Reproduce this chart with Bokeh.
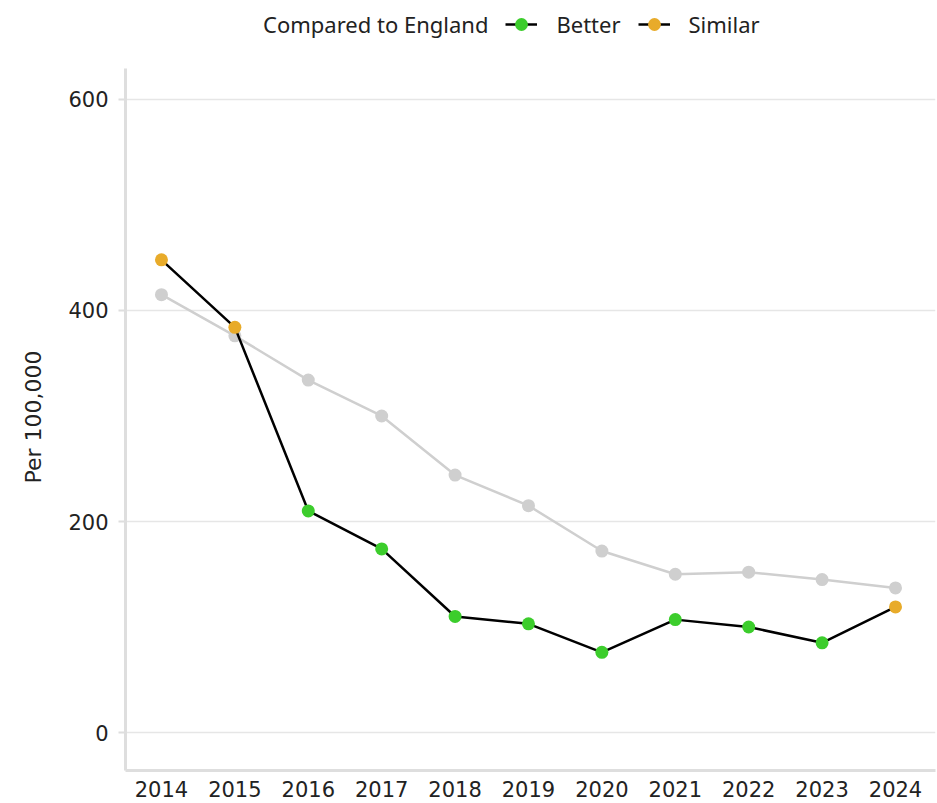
from bokeh.plotting import figure
from bokeh.models import ColumnDataSource, Legend, LegendItem, FixedTicker, Range1d, Title
from bokeh.embed import file_html
from bokeh.resources import INLINE

years = [2014, 2015, 2016, 2017, 2018, 2019, 2020, 2021, 2022, 2023, 2024]
area_values = [448, 384, 210, 174, 110, 103, 76, 107, 100, 85, 119]
area_compare = ["Similar", "Similar", "Better", "Better", "Better", "Better",
                "Better", "Better", "Better", "Better", "Similar"]
england_values = [415, 376, 334, 300, 244, 215, 172, 150, 152, 145, 137]
y_ticks = [0, 200, 400, 600]
legend_title = "Compared to England"
y_label = "Per 100,000"

colors = {"Better": "#3ccd2c", "Similar": "#e8ab2a"}
grey = "#cfcfcf"
axis_grey = "#dedede"
font = "DejaVu Sans"
lfont = "Noto Sans"

Y_LO, Y_AXIS_TOP, Y_HI = -36, 629.4, 693.8

p = figure(width=936, height=802, output_backend="svg", toolbar_location=None,
           x_range=Range1d(2013.51, 2024.545), y_range=Range1d(Y_LO, Y_HI),
           min_border_left=125, min_border_right=1, min_border_top=0,
           min_border_bottom=32)
p.outline_line_color = None
p.background_fill_color = "white"

# England comparator
p.line(years, england_values, line_color=grey, line_width=2.5)
p.scatter(years, england_values, size=13, fill_color=grey, line_color=None)

# Area line
area_line = p.line(years, area_values, line_color="black", line_width=2.5)
renderers = {}
for cat in ["Better", "Similar"]:
    xs = [y for y, c in zip(years, area_compare) if c == cat]
    vs = [v for v, c in zip(area_values, area_compare) if c == cat]
    src = ColumnDataSource(dict(x=xs, y=vs))
    renderers[cat] = p.scatter("x", "y", source=src, size=13,
                               fill_color=colors[cat], line_color=None)

# invisible renderer so the legend title can sit inline as the first entry
blank = p.scatter(x=[], y=[], size=1, fill_alpha=0, line_alpha=0)

legend = Legend(items=[
    LegendItem(label=legend_title, renderers=[blank]),
    LegendItem(label="Better", renderers=[area_line, renderers["Better"]]),
    LegendItem(label="Similar", renderers=[area_line, renderers["Similar"]]),
], orientation="horizontal", location=(87, 730))
legend.label_text_font = lfont
legend.label_text_font_size = "22px"
legend.label_text_color = "#222222"
legend.border_line_color = None
legend.background_fill_alpha = 0
legend.glyph_width = 32
legend.glyph_height = 32
legend.label_standoff = 19
legend.spacing = 17
legend.padding = 4
legend.margin = 0
p.add_layout(legend, "center")

# Axes
p.xaxis.ticker = FixedTicker(ticks=years)
p.yaxis.ticker = FixedTicker(ticks=y_ticks)
p.yaxis.bounds = (Y_LO, Y_AXIS_TOP)
p.xaxis.major_tick_line_color = None
p.xaxis.minor_tick_line_color = None
p.yaxis.minor_tick_line_color = None
p.yaxis.major_tick_line_color = axis_grey
p.yaxis.major_tick_out = 7
p.yaxis.major_tick_in = 0
p.yaxis.major_tick_line_width = 2
for ax in (p.xaxis, p.yaxis):
    ax.axis_line_color = axis_grey
    ax.axis_line_width = 3
    ax.major_label_text_font = font
    ax.major_label_text_font_size = "21px"
    ax.major_label_text_color = "#222222"
p.xaxis.major_label_standoff = 4
p.yaxis.major_label_standoff = 10

# y-axis title, centred on the visible axis span rather than the full frame
ytitle = Title(text=y_label, align="left", offset=287, vertical_align="top",
               standoff=36, text_font=font, text_font_size="22px",
               text_font_style="normal", text_color="#222222")
p.add_layout(ytitle, "left")

p.xgrid.grid_line_color = None
p.ygrid.grid_line_color = "#e6e6e6"
p.ygrid.grid_line_width = 1.5

open("out.html", "w").write(file_html(p, INLINE))
